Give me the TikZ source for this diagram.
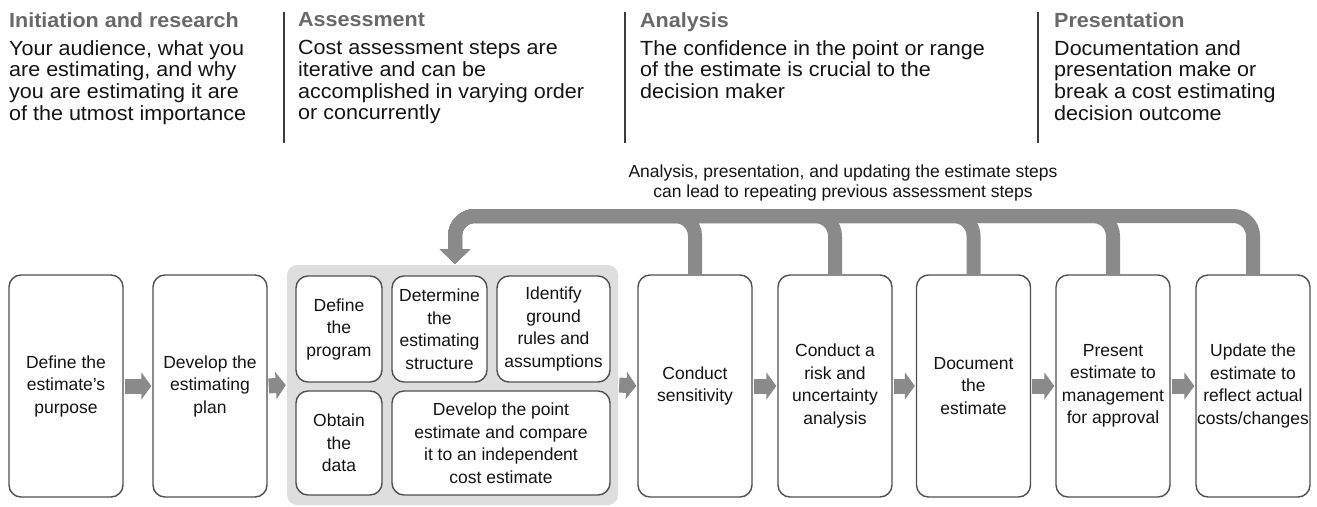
\documentclass[tikz,border=0pt]{standalone}
\usepackage{fontspec}
\setmainfont{Liberation Sans}
\newfontfamily\widefont[FakeStretch=1.05]{Liberation Sans}
\usetikzlibrary{arrows.meta}
\definecolor{arrowgray}{RGB}{138,138,138}
\definecolor{boxline}{RGB}{80,80,80}
\definecolor{groupfill}{RGB}{222,222,222}
\definecolor{headgray}{RGB}{105,105,105}
\definecolor{sepline}{RGB}{60,60,60}
\definecolor{bodytext}{RGB}{20,20,20}
\begin{document}
\begin{tikzpicture}[x=1pt,y=-1pt,
  stepbox/.style={draw=boxline, line width=1.4pt, rounded corners=12pt, fill=white,
    align=center, inner sep=0pt, text=bodytext, font=\fontsize{17.5}{22.5}\selectfont},
  bigbox/.style={stepbox, minimum width=114pt, minimum height=222pt},
  groupbox/.style={fill=groupfill, draw=none, rounded corners=10pt, inner sep=0pt},
  flow/.style={arrowgray, line width=15pt, -{Triangle[length=10pt,width=27pt]},
    shorten <=1pt, shorten >=1pt},
  fb/.style={arrowgray, line width=14pt, rounded corners=20pt,
    -{Triangle[length=15pt,width=30pt]}},
  head/.style={anchor=north west, inner sep=0pt, text=headgray,
    font=\widefont\bfseries\fontsize{20.5}{21.8}\selectfont},
  body/.style={anchor=north west, inner sep=0pt, align=left, text=bodytext,
    font=\widefont\fontsize{20.5}{21.8}\selectfont},
  sepstroke/.style={draw=sepline, line width=1.3pt}
]
\useasboundingbox (0,0) rectangle (1317,506);

% column headers
\node[head] (h1) at (9,12) {Initiation and research};
\node[head] (h2) at (298,12) {Assessment};
\node[head] (h3) at (640,12) {Analysis};
\node[head] (h4) at (1054,12) {Presentation};
\node[body] (t1) at (9,40) {Your audience, what you\\are estimating, and why\\you are estimating it are\\of the utmost importance};
\node[body] (t2) at (298,40) {Cost assessment steps are\\iterative and can be\\accomplished in varying order\\or concurrently};
\node[body] (t3) at (640,40) {The confidence in the point or range\\of the estimate is crucial to the\\decision maker};
\node[body] (t4) at (1054,40) {Documentation and\\presentation make or\\break a cost estimating\\decision outcome};
\draw[sepstroke] (284,12) -- (284,143);
\draw[sepstroke] (625,12) -- (625,143);
\draw[sepstroke] (1038,12) -- (1038,143);

% feedback label
\node[align=center, inner sep=0pt, text=bodytext, font=\fontsize{17.5}{20}\selectfont] (fbl) at (843,183)
  {Analysis, presentation, and updating the estimate steps\\can lead to repeating previous assessment steps};

% group container
\node[groupbox, minimum width=331pt, minimum height=240pt] (grp) at (452.5,385) {};

% boxes
\node[bigbox] (b1) at (66,386) {Define the\\estimate’s\\purpose};
\node[bigbox] (b2) at (210,386) {Develop the\\estimating\\plan};
\node[stepbox, minimum width=86pt, minimum height=106pt] (g1) at (339,329) {Define\\the\\program};
\node[stepbox, minimum width=95pt, minimum height=106pt] (g2) at (439.5,329) {Determine\\the\\estimating\\structure};
\node[stepbox, minimum width=113pt, minimum height=106pt] (g3) at (553.5,329) {Identify\\ground\\rules and\\assumptions};
\node[stepbox, minimum width=86pt, minimum height=104pt] (g4) at (339,443) {Obtain\\the\\data};
\node[stepbox, minimum width=218pt, minimum height=104pt] (g5) at (501,443) {Develop the point\\estimate and compare\\it to an independent\\cost estimate};
\node[bigbox] (s1) at (695,386) {Conduct\\sensitivity};
\node[bigbox] (s2) at (835,386) {Conduct a\\risk and\\uncertainty\\analysis};
\node[bigbox] (s3) at (973.5,386) {Document\\the\\estimate};
\node[bigbox] (s4) at (1113,386) {Present\\estimate to\\management\\for approval};
\node[bigbox] (s5) at (1253,386) {Update the\\estimate to\\reflect actual\\costs/changes};

% flow arrows
\draw[flow] (b1.east) -- (b2.west);
\draw[flow] (b2.east) -- (grp.west);
\draw[flow] (grp.east) -- (s1.west);
\draw[flow] (s1.east) -- (s2.west);
\draw[flow] (s2.east) -- (s3.west);
\draw[flow] (s3.east) -- (s4.west);
\draw[flow] (s4.east) -- (s5.west);

% feedback loop
\coordinate (barL) at (455,216);
\coordinate (fbtip) at (455,264);
\foreach \s in {s1,s2,s3,s4,s5}
  \draw[fb] (\s.north) |- (barL) -- (fbtip);
\end{tikzpicture}
\end{document}
